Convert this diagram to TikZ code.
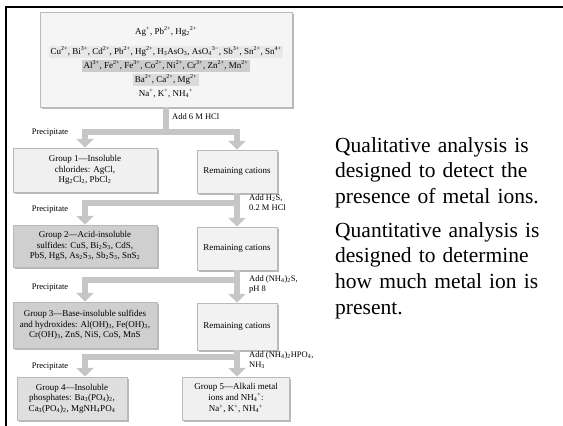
\documentclass[tikz,border=0pt]{standalone}
\usepackage{fontspec}
\setmainfont{Liberation Serif}
\usetikzlibrary{arrows.meta,shadows}

\newcommand{\ionsub}[2]{\textsubscript{#1}\textsuperscript{#2}}

\tikzset{
  box/.style={draw=gray!55, line width=0.5, fill=#1, align=center,
    font=\fontsize{9}{10.5}\selectfont,
    drop shadow={shadow xshift=1.5pt, shadow yshift=-1.5pt, fill=gray!55, opacity=1}},
  band/.style={fill=#1, inner xsep=2, inner ysep=0.8, text height=7.5, text depth=2.3,
    font=\fontsize{9}{10}\selectfont},
  lbl/.style={font=\fontsize{8.5}{10}\selectfont, align=left, inner sep=0},
  bigline/.style={draw=gray!45, line width=6},
  bigarrow/.style={-{Triangle[width=17pt,length=9pt]}, draw=gray!45, line width=6},
}

\begin{document}
\begin{tikzpicture}[x=1pt,y=-1pt]
  \useasboundingbox (0,0) rectangle (563,426);

  % frame
  \draw[line width=2] (5.5,426) -- (5.5,6.5) -- (563,6.5);

  % cations at start
  \node[box=gray!8, minimum width=252, minimum height=95] (top) at (166,59.5) {};
  \node[band=none] (c1) at (166,32) {Ag\textsuperscript{+}, Pb\textsuperscript{2+}, Hg\ionsub{2}{2+}};
  \node[band=gray!18] (c2) at (166,52) {Cu\textsuperscript{2+}, Bi\textsuperscript{3+}, Cd\textsuperscript{2+}, Pb\textsuperscript{2+}, Hg\textsuperscript{2+}, H\textsubscript{3}AsO\textsubscript{3}, AsO\ionsub{4}{3−}, Sb\textsuperscript{3+}, Sn\textsuperscript{2+}, Sn\textsuperscript{4+}};
  \node[band=gray!40] (c3) at (166,66) {Al\textsuperscript{3+}, Fe\textsuperscript{2+}, Fe\textsuperscript{3+}, Co\textsuperscript{2+}, Ni\textsuperscript{2+}, Cr\textsuperscript{3+}, Zn\textsuperscript{2+}, Mn\textsuperscript{2+}};
  \node[band=gray!28] (c4) at (166,80) {Ba\textsuperscript{2+}, Ca\textsuperscript{2+}, Mg\textsuperscript{2+}};
  \node[band=none] (c5) at (166,94) {Na\textsuperscript{+}, K\textsuperscript{+}, NH\ionsub{4}{+}};

  % groups
  \node[box=gray!12, minimum width=144, minimum height=44] (g1) at (85,170) {Group 1---Insoluble\\chlorides: AgCl,\\Hg\textsubscript{2}Cl\textsubscript{2}, PbCl\textsubscript{2}};
  \node[box=gray!38, minimum width=144, minimum height=42] (g2) at (85,246) {Group 2---Acid-insoluble\\sulfides: CuS, Bi\textsubscript{2}S\textsubscript{3}, CdS,\\PbS, HgS, As\textsubscript{2}S\textsubscript{3}, Sb\textsubscript{2}S\textsubscript{3}, SnS\textsubscript{2}};
  \node[box=gray!38, minimum width=144, minimum height=46] (g3) at (85,325) {Group 3---Base-insoluble sulfides\\and hydroxides: Al(OH)\textsubscript{3}, Fe(OH)\textsubscript{3},\\Cr(OH)\textsubscript{3}, ZnS, NiS, CoS, MnS};
  \node[box=gray!25, minimum width=110, minimum height=43] (g4) at (72,398.5) {Group 4---Insoluble\\phosphates: Ba\textsubscript{3}(PO\textsubscript{4})\textsubscript{2},\\Ca\textsubscript{3}(PO\textsubscript{4})\textsubscript{2}, MgNH\textsubscript{4}PO\textsubscript{4}};
  \node[box=gray!12, minimum width=107, minimum height=43] (g5) at (236,398.5) {Group 5---Alkali metal\\ions and NH\ionsub{4}{+}:\\[1pt]Na\textsuperscript{+}, K\textsuperscript{+}, NH\ionsub{4}{+}};

  % what is left
  \node[box=gray!10, minimum width=80, minimum height=43] (r1) at (237,171.5) {Remaining cations};
  \node[box=gray!10, minimum width=80, minimum height=43] (r2) at (237,248.5) {Remaining cations};
  \node[box=gray!10, minimum width=80, minimum height=47] (r3) at (237,326.5) {Remaining cations};

  \coordinate (j1) at (166,132);
  \coordinate (j2) at (237,203);
  \coordinate (j3) at (237,280);
  \coordinate (j4) at (237,357);

  \draw[bigline] (top.south) -- (j1);
  \draw[bigarrow] (j1) -| (g1.north);
  \draw[bigarrow] (j1) -| (r1.north);
  \draw[bigarrow] (r1.south) -- (r2.north);
  \draw[bigarrow] (j2) -| (g2.north);
  \draw[bigarrow] (r2.south) -- (r3.north);
  \draw[bigarrow] (j3) -| (g3.north);
  \draw[bigarrow] (r3.south) -- (g5.north -| r3);
  \draw[bigarrow] (j4) -| (g4.north -| g1);

  % reagents
  \node[lbl, anchor=west] (a1) at (172,117) {Add 6 M HCl};
  \node[lbl, anchor=north west] (a2) at (249,194) {Add H\textsubscript{2}S,\\0.2 M HCl};
  \node[lbl, anchor=north west] (a3) at (249,275) {Add (NH\textsubscript{4})\textsubscript{2}S,\\pH 8};
  \node[lbl, anchor=north west] (a4) at (249,351) {Add (NH\textsubscript{4})\textsubscript{2}HPO\textsubscript{4},\\NH\textsubscript{3}};

  \node[lbl] (p1) at (50,133) {Precipitate};
  \node[lbl] (p2) at (50,210) {Precipitate};
  \node[lbl] (p3) at (50,288) {Precipitate};
  \node[lbl] (p4) at (50,367) {Precipitate};

  % side text
  \node[anchor=base west, text width=230, align=left, inner sep=0,
        font=\fontsize{21.5}{25.7}\selectfont] (qual) at (335,152)
        {Qualitative analysis is\\designed to detect the\\presence of metal ions.};
  \node[anchor=base west, text width=230, align=left, inner sep=0,
        font=\fontsize{21.5}{25.7}\selectfont] (quant) at (335,237)
        {Quantitative analysis is\\designed to determine\\how much metal ion is\\present.};
\end{tikzpicture}
\end{document}
